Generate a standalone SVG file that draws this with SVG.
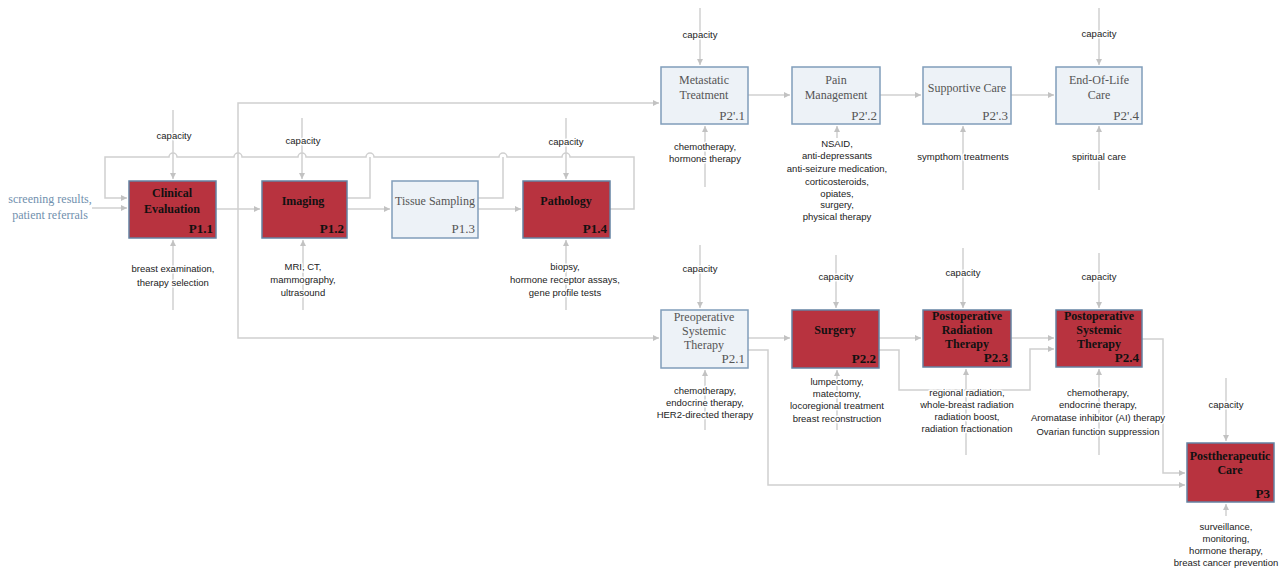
<svg xmlns="http://www.w3.org/2000/svg" width="1284" height="571" viewBox="0 0 1284 571">
<defs>
<marker id="ah" viewBox="0 0 6 6" refX="6" refY="3" markerWidth="6" markerHeight="6" markerUnits="userSpaceOnUse" orient="auto">
<path d="M0,0 L6,3 L0,6 z" fill="#c2c2c2"/>
</marker>
<style>
.ln{fill:none;stroke:#d0d0d0;stroke-width:1.5}
.ar{fill:none;stroke:#d0d0d0;stroke-width:1.5;marker-end:url(#ah)}
.red{fill:#b8333f;stroke:#6483a3;stroke-width:1.5}
.lt{fill:#edf2f7;stroke:#809dba;stroke-width:1.5}
.tr{font-family:"Liberation Serif",serif;font-size:12px;font-weight:bold;fill:#111;text-anchor:middle}
.tl{font-family:"Liberation Serif",serif;font-size:12px;fill:#555;text-anchor:middle}
.pr{font-family:"Liberation Serif",serif;font-size:13px;font-weight:bold;fill:#111;text-anchor:end}
.pl{font-family:"Liberation Serif",serif;font-size:13px;fill:#555;text-anchor:end}
.m{font-family:"Liberation Sans",Arial,sans-serif;font-size:9.5px;fill:#222;text-anchor:middle;paint-order:stroke;stroke:#fff;stroke-width:3px;stroke-linejoin:round}
.in{font-family:"Liberation Serif",serif;font-size:12px;fill:#7190ae;text-anchor:middle}
</style>
</defs>
<rect width="1284" height="571" fill="#fff"/>
<g id="connectors">
<path class="ar" d="M92,208 H127"/>
<path class="ar" d="M610,209 H634 V157 H570 a4,4 0 0 0 -8,0 H507 a4,4 0 0 0 -8,0 H374 a4,4 0 0 0 -8,0 H306 a4,4 0 0 0 -8,0 H242 a4,4 0 0 0 -8,0 H177 a4,4 0 0 0 -8,0 H105 V198 H127"/>
<path class="ln" d="M347,198 H370 V157"/>
<path class="ln" d="M478,198 H503 V157"/>
<path class="ar" d="M216,209 H260"/>
<path class="ar" d="M347,209 H390"/>
<path class="ar" d="M478,209 H521"/>
<path class="ar" d="M238,220 V103 H659"/>
<path class="ar" d="M238,220 V338 H659"/>
<path class="ar" d="M748,95 H790"/>
<path class="ar" d="M880,95 H921"/>
<path class="ar" d="M1011,95 H1054"/>
<path class="ar" d="M748,338 H790"/>
<path class="ar" d="M879,338 H921"/>
<path class="ar" d="M1011,338 H1054"/>
<path class="ar" d="M748,350 H768 V485 H1185"/>
<path class="ar" d="M879,350 H899 V390 H1030 V349 H1054"/>
<path class="ar" d="M1142,339 H1163 V473 H1185"/>
<path class="ar" d="M173,110 V179"/>
<path class="ar" d="M302,118 V179"/>
<path class="ar" d="M566,118 V179"/>
<path class="ar" d="M700,8 V65"/>
<path class="ar" d="M1099,8 V65"/>
<path class="ar" d="M700,245 V308"/>
<path class="ar" d="M836,255 V308"/>
<path class="ar" d="M963,248 V308"/>
<path class="ar" d="M1099,253 V308"/>
<path class="ar" d="M1226,378 V441"/>
<path class="ar" d="M173,310 V240"/>
<path class="ar" d="M303,310 V240"/>
<path class="ar" d="M566,310 V240"/>
<path class="ar" d="M705,187 V126"/>
<path class="ar" d="M837,138 V126"/>
<path class="ar" d="M963,190 V126"/>
<path class="ar" d="M1099,190 V126"/>
<path class="ar" d="M705,430 V370"/>
<path class="ar" d="M837,430 V370"/>
<path class="ar" d="M966,455 V369"/>
<path class="ar" d="M1099,455 V369"/>
<path class="ar" d="M1226,516 V504"/>
</g>
<g id="labels">
<text class="in" x="50" y="203">screening results,</text>
<text class="in" x="50" y="219">patient referrals</text>
<text class="m" x="174" y="139">capacity</text>
<text class="m" x="303" y="144">capacity</text>
<text class="m" x="566" y="145">capacity</text>
<text class="m" x="700" y="38">capacity</text>
<text class="m" x="1099" y="37">capacity</text>
<text class="m" x="700" y="272">capacity</text>
<text class="m" x="836" y="280">capacity</text>
<text class="m" x="963" y="276">capacity</text>
<text class="m" x="1099" y="280">capacity</text>
<text class="m" x="1226" y="408">capacity</text>
<text class="m" x="173" y="272">breast examination,</text>
<text class="m" x="173" y="286">therapy selection</text>
<text class="m" x="303" y="270">MRI, CT,</text>
<text class="m" x="303" y="283">mammography,</text>
<text class="m" x="303" y="296">ultrasound</text>
<text class="m" x="565" y="270">biopsy,</text>
<text class="m" x="565" y="283">hormone receptor assays,</text>
<text class="m" x="565" y="296">gene profile tests</text>
<text class="m" x="705" y="150">chemotherapy,</text>
<text class="m" x="705" y="162">hormone therapy</text>
<text class="m" x="837" y="147">NSAID,</text>
<text class="m" x="837" y="159">anti-depressants</text>
<text class="m" x="837" y="172">anti-seizure medication,</text>
<text class="m" x="837" y="185">corticosteroids,</text>
<text class="m" x="837" y="197">opiates,</text>
<text class="m" x="837" y="208">surgery,</text>
<text class="m" x="837" y="220">physical therapy</text>
<text class="m" x="963" y="160">sympthom treatments</text>
<text class="m" x="1099" y="160">spiritual care</text>
<text class="m" x="705" y="394">chemotherapy,</text>
<text class="m" x="705" y="406">endocrine therapy,</text>
<text class="m" x="705" y="418">HER2-directed therapy</text>
<text class="m" x="837" y="385">lumpectomy,</text>
<text class="m" x="837" y="397">matectomy,</text>
<text class="m" x="837" y="409">locoregional treatment</text>
<text class="m" x="837" y="422">breast reconstruction</text>
<text class="m" x="967" y="396">regional radiation,</text>
<text class="m" x="967" y="408">whole-breast radiation</text>
<text class="m" x="967" y="420">radiation boost,</text>
<text class="m" x="967" y="432">radiation fractionation</text>
<text class="m" x="1098" y="396">chemotherapy,</text>
<text class="m" x="1098" y="408">endocrine therapy,</text>
<text class="m" x="1098" y="421">Aromatase inhibitor (AI) therapy</text>
<text class="m" x="1098" y="435">Ovarian function suppression</text>
<text class="m" x="1226" y="530">surveillance,</text>
<text class="m" x="1226" y="542">monitoring,</text>
<text class="m" x="1226" y="554">hormone therapy,</text>
<text class="m" x="1226" y="566">breast cancer prevention</text>
</g>
<g id="P1.1">
<rect class="red" x="129" y="181" width="87" height="57"/>
<text class="tr" x="172" y="197">Clinical</text>
<text class="tr" x="172" y="213">Evaluation</text>
<text class="pr" x="213" y="233">P1.1</text>
</g>
<g id="P1.2">
<rect class="red" x="262" y="181" width="85" height="57"/>
<text class="tr" x="303" y="205">Imaging</text>
<text class="pr" x="344" y="233">P1.2</text>
</g>
<g id="P1.3">
<rect class="lt" x="392" y="181" width="86" height="57"/>
<text class="tl" x="435" y="205">Tissue Sampling</text>
<text class="pl" x="475" y="233">P1.3</text>
</g>
<g id="P1.4">
<rect class="red" x="523" y="181" width="87" height="57"/>
<text class="tr" x="566" y="205">Pathology</text>
<text class="pr" x="607" y="233">P1.4</text>
</g>
<g id="P2p.1">
<rect class="lt" x="661" y="67" width="87" height="57"/>
<text class="tl" x="704" y="84">Metastatic</text>
<text class="tl" x="704" y="99">Treatment</text>
<text class="pl" x="745" y="120">P2'.1</text>
</g>
<g id="P2p.2">
<rect class="lt" x="792" y="67" width="88" height="57"/>
<text class="tl" x="836" y="84">Pain</text>
<text class="tl" x="836" y="99">Management</text>
<text class="pl" x="877" y="120">P2'.2</text>
</g>
<g id="P2p.3">
<rect class="lt" x="923" y="67" width="88" height="57"/>
<text class="tl" x="967" y="92">Supportive Care</text>
<text class="pl" x="1008" y="120">P2'.3</text>
</g>
<g id="P2p.4">
<rect class="lt" x="1056" y="67" width="86" height="57"/>
<text class="tl" x="1099" y="84">End-Of-Life</text>
<text class="tl" x="1099" y="99">Care</text>
<text class="pl" x="1139" y="120">P2'.4</text>
</g>
<g id="P2.1">
<rect class="lt" x="661" y="310" width="87" height="58"/>
<text class="tl" x="704" y="321">Preoperative</text>
<text class="tl" x="704" y="335">Systemic</text>
<text class="tl" x="704" y="349">Therapy</text>
<text class="pl" x="745" y="363">P2.1</text>
</g>
<g id="P2.2">
<rect class="red" x="792" y="310" width="87" height="58"/>
<text class="tr" x="835" y="334">Surgery</text>
<text class="pr" x="876" y="363">P2.2</text>
</g>
<g id="P2.3">
<rect class="red" x="923" y="310" width="88" height="57"/>
<text class="tr" x="967" y="320">Postoperative</text>
<text class="tr" x="967" y="334">Radiation</text>
<text class="tr" x="967" y="348">Therapy</text>
<text class="pr" x="1008" y="362">P2.3</text>
</g>
<g id="P2.4">
<rect class="red" x="1056" y="310" width="86" height="57"/>
<text class="tr" x="1099" y="320">Postoperative</text>
<text class="tr" x="1099" y="334">Systemic</text>
<text class="tr" x="1099" y="348">Therapy</text>
<text class="pr" x="1139" y="362">P2.4</text>
</g>
<g id="P3">
<rect class="red" x="1187" y="443" width="87" height="59"/>
<text class="tr" x="1230" y="460">Posttherapeutic</text>
<text class="tr" x="1230" y="474">Care</text>
<text class="pr" x="1270" y="498">P3</text>
</g>
</svg>
